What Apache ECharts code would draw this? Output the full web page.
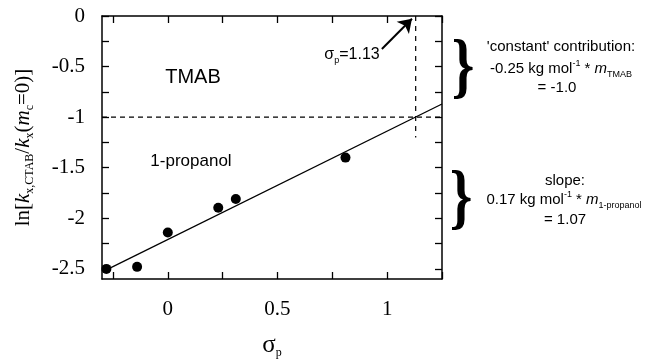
<!DOCTYPE html>
<html lang="en">
<head>
    <meta charset="UTF-8">
    <title>sigma_p plot</title>
    <script src="https://cdn.jsdelivr.net/npm/echarts@6/dist/echarts.min.js"></script>
</head>
<style>
    body{
        margin: 0;
        padding: 0;
        background: #fff;
    }
</style>
<body>
<div id="main" style="width: 647px;height:360px;"></div>
<script>
    // data
    var sigmaP = [-0.28, -0.14, 0, 0.23, 0.31, 0.81];
    var lnRatio = [-2.50, -2.48, -2.14, -1.895, -1.81, -1.40];
    var fitX = [-0.28, 1.25];
    var fitY = [-2.51, -0.87];
    var hRefX = [-0.3, 1.25];
    var hRefY = [-1, -1];
    var vRefX = [1.13, 1.13];
    var vRefY = [0, -1.2];
    var xTicks = [-0.25, 0, 0.25, 0.5, 0.75, 1, 1.25];
    var xLabels = [0, 0.5, 1];
    var yTicks = [0, -0.25, -0.5, -0.75, -1, -1.25, -1.5, -1.75, -2, -2.25, -2.5];
    var yLabels = [0, -0.5, -1, -1.5, -2, -2.5];

    function pairs(xs, ys) {
        var out = [];
        for (var i = 0; i < xs.length; i++) {
            out.push([xs[i], ys[i]]);
        }
        return out;
    }

    var serif = 'Liberation Serif';
    var sans = 'Liberation Sans';
    var tickStyle = {show: true, inside: true, length: 7, lineStyle: {color: '#000', width: 1.3}};
    var lineStyleAxis = {show: true, onZero: false, lineStyle: {color: '#000', width: 1.5}};

    var chart = echarts.init(document.getElementById('main'));
    var option = {
        animation: false,
        grid: {left: 102, right: 205, top: 16, bottom: 81, outerBoundsMode: 'none', containLabel: false},
        xAxis: [{
            type: 'value', min: -0.3, max: 1.25, position: 'bottom',
            axisLine: lineStyleAxis,
            axisTick: Object.assign({customValues: xTicks}, tickStyle),
            axisLabel: {customValues: xLabels, margin: 20, color: '#000', fontFamily: serif, fontSize: 21},
            splitLine: {show: false},
            name: '{t|σ}{s|p}',
            nameLocation: 'middle',
            nameGap: 52,
            nameTextStyle: {
                rich: {
                    t: {fontFamily: serif, fontSize: 25, lineHeight: 28, color: '#000'},
                    s: {fontFamily: serif, fontSize: 12, lineHeight: 12, verticalAlign: 'bottom', color: '#000'}
                }
            }
        }, {
            type: 'value', min: -0.3, max: 1.25, position: 'top',
            axisLine: lineStyleAxis,
            axisTick: Object.assign({customValues: xTicks}, tickStyle),
            axisLabel: {show: false},
            splitLine: {show: false}
        }],
        yAxis: [{
            type: 'value', min: -2.6, max: 0, position: 'left',
            axisLine: lineStyleAxis,
            axisTick: Object.assign({customValues: yTicks}, tickStyle),
            axisLabel: {customValues: yLabels, margin: 17, color: '#000', fontFamily: serif, fontSize: 21},
            splitLine: {show: false},
            name: '{t|ln[}{i|k}{s|x,CTAB}{t|/}{i|k}{s|x}{t|(}{i|m}{s|c}{t|=0)]}',
            nameLocation: 'middle',
            nameRotate: 90,
            nameGap: 66,
            nameTextStyle: {
                rich: {
                    t: {fontFamily: serif, fontSize: 21, lineHeight: 26, color: '#000'},
                    i: {fontFamily: serif, fontStyle: 'italic', fontSize: 21, lineHeight: 26, color: '#000'},
                    s: {fontFamily: serif, fontSize: 12, lineHeight: 12, verticalAlign: 'bottom', color: '#000'}
                }
            }
        }, {
            type: 'value', min: -2.6, max: 0, position: 'right',
            axisLine: lineStyleAxis,
            axisTick: Object.assign({customValues: yTicks}, tickStyle),
            axisLabel: {show: false},
            splitLine: {show: false}
        }],
        series: [{
            name: 'points',
            type: 'scatter',
            symbolSize: 10,
            itemStyle: {color: '#000', opacity: 1},
            data: pairs(sigmaP, lnRatio),
            z: 5
        }, {
            name: 'fit',
            type: 'line',
            showSymbol: false,
            lineStyle: {color: '#000', width: 1.3},
            data: pairs(fitX, fitY),
            markLine: {
                silent: true,
                symbol: ['none', 'arrow'],
                symbolSize: 13,
                label: {show: false},
                lineStyle: {color: '#000', width: 2, type: 'solid'},
                data: [[{coord: [0.976, -0.326]}, {coord: [1.113, -0.027]}]]
            }
        }, {
            name: 'hRef',
            type: 'line',
            showSymbol: false,
            lineStyle: {color: '#000', width: 1.2, type: [5, 4]},
            data: pairs(hRefX, hRefY)
        }, {
            name: 'vRef',
            type: 'line',
            showSymbol: false,
            lineStyle: {color: '#000', width: 1.2, type: [5, 5]},
            data: pairs(vRefX, vRefY)
        }],
        graphic: [
            {type: 'text', x: 193, y: 77, style: {text: 'TMAB', fontFamily: sans, fontSize: 20, fill: '#000', align: 'center', verticalAlign: 'middle'}},
            {type: 'text', x: 191, y: 161, style: {text: '1-propanol', fontFamily: sans, fontSize: 17, fill: '#000', align: 'center', verticalAlign: 'middle'}},
            {type: 'text', x: 352, y: 55, style: {
                text: '{n|σ}{s|p}{n|=1.13}', align: 'center', verticalAlign: 'middle',
                rich: {
                    n: {fontFamily: sans, fontSize: 16, lineHeight: 20, fill: '#000'},
                    s: {fontFamily: sans, fontSize: 9, lineHeight: 10, verticalAlign: 'bottom', fill: '#000'}
                }
            }},
            {type: 'text', x: 463, y: 70, scaleX: 0.8, style: {text: '}', fontFamily: serif, fontWeight: 'bold', fontSize: 72, fill: '#000', align: 'center', verticalAlign: 'middle'}},
            {type: 'text', x: 461, y: 201, scaleX: 0.8, style: {text: '}', fontFamily: serif, fontWeight: 'bold', fontSize: 72, fill: '#000', align: 'center', verticalAlign: 'middle'}},
            {type: 'text', x: 561, y: 47, style: {text: "'constant' contribution:", fontFamily: sans, fontSize: 15, fill: '#000', align: 'center', verticalAlign: 'middle'}},
            {type: 'text', x: 561, y: 69, style: {
                text: '{n|-0.25 kg mol}{p|-1}{n| * }{i|m}{s|TMAB}', align: 'center', verticalAlign: 'middle',
                rich: {
                    n: {fontFamily: sans, fontSize: 15, lineHeight: 20, fill: '#000'},
                    i: {fontFamily: sans, fontStyle: 'italic', fontSize: 15, lineHeight: 20, fill: '#000'},
                    p: {fontFamily: sans, fontSize: 9, lineHeight: 12, verticalAlign: 'top', fill: '#000'},
                    s: {fontFamily: sans, fontSize: 9, lineHeight: 10, verticalAlign: 'bottom', fill: '#000'}
                }
            }},
            {type: 'text', x: 557, y: 88, style: {text: '= -1.0', fontFamily: sans, fontSize: 15, fill: '#000', align: 'center', verticalAlign: 'middle'}},
            {type: 'text', x: 565, y: 181, style: {text: 'slope:', fontFamily: sans, fontSize: 15, fill: '#000', align: 'center', verticalAlign: 'middle'}},
            {type: 'text', x: 564, y: 200, style: {
                text: '{n|0.17 kg mol}{p|-1}{n| * }{i|m}{s|1-propanol}', align: 'center', verticalAlign: 'middle',
                rich: {
                    n: {fontFamily: sans, fontSize: 15, lineHeight: 20, fill: '#000'},
                    i: {fontFamily: sans, fontStyle: 'italic', fontSize: 15, lineHeight: 20, fill: '#000'},
                    p: {fontFamily: sans, fontSize: 9, lineHeight: 12, verticalAlign: 'top', fill: '#000'},
                    s: {fontFamily: sans, fontSize: 9, lineHeight: 10, verticalAlign: 'bottom', fill: '#000'}
                }
            }},
            {type: 'text', x: 565, y: 220, style: {text: '= 1.07', fontFamily: sans, fontSize: 15, fill: '#000', align: 'center', verticalAlign: 'middle'}}
        ]
    };
    chart.setOption(option);
</script>
</body>
</html>
